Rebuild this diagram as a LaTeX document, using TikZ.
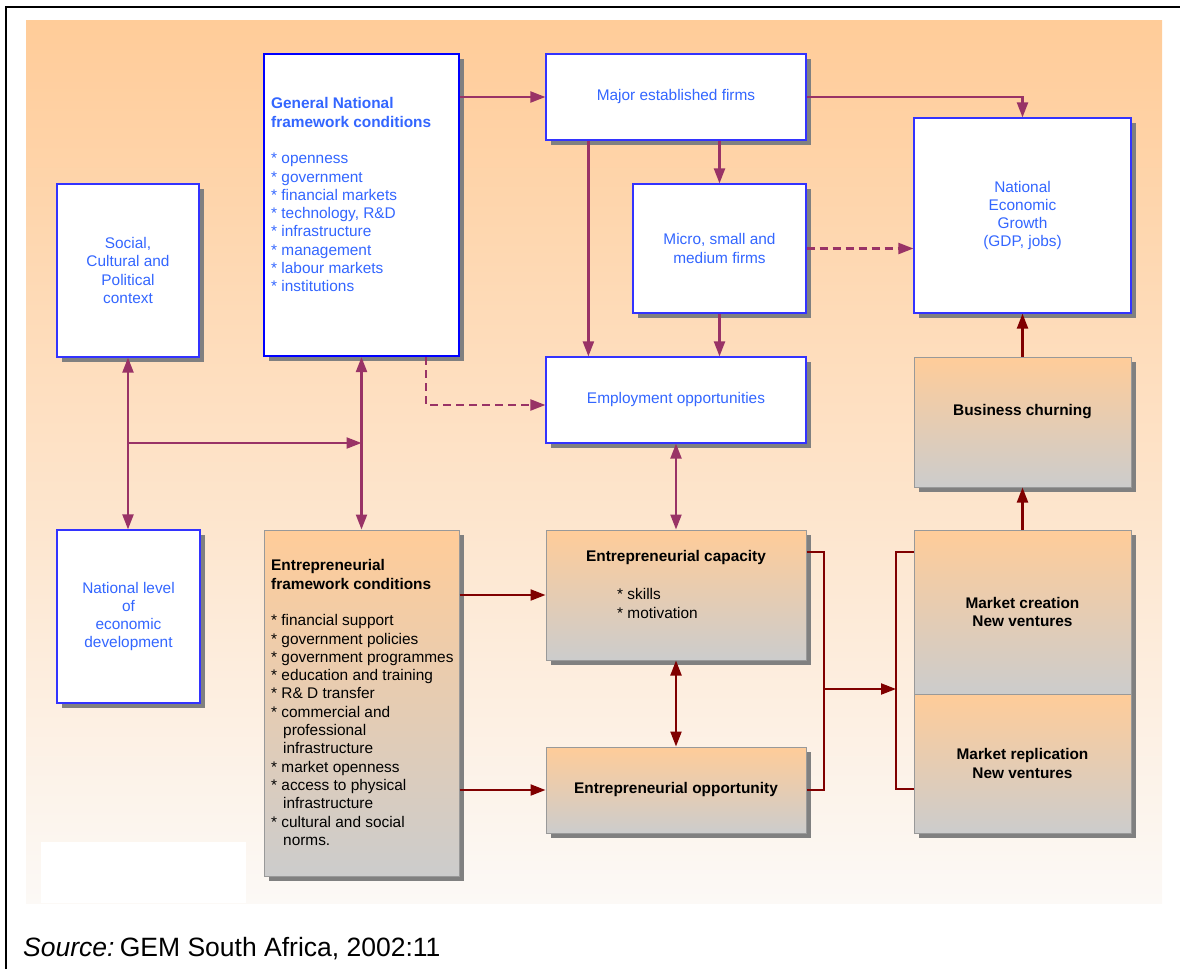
\documentclass[tikz,border=0pt]{standalone}
\usepackage{fontspec}
\setmainfont{Liberation Sans}
\usetikzlibrary{arrows.meta,shadows}

\definecolor{bgtop}{RGB}{255,204,153}
\definecolor{bgbot}{RGB}{252,249,246}
\definecolor{boxtop}{RGB}{255,204,153}
\definecolor{boxbot}{RGB}{204,204,204}
\definecolor{boxedge}{RGB}{153,153,153}
\definecolor{linkpurple}{RGB}{153,51,102}
\definecolor{linkred}{RGB}{128,0,0}
\definecolor{txtblue}{RGB}{51,102,255}
\definecolor{edgeblue}{RGB}{51,51,255}
\definecolor{shadowgray}{RGB}{128,128,128}

\tikzset{
  >={Triangle[length=15pt,width=11pt]},
  bodyfont/.style={font=\fontsize{15.4}{18.3}\selectfont},
  shadowed/.style={drop shadow={shadow xshift=5pt,shadow yshift=-5pt,fill=shadowgray,opacity=1}},
  whitebox/.style={shadowed, rectangle, draw=edgeblue, line width=1.2pt, fill=white,
    inner sep=0pt, text=txtblue, align=center, bodyfont},
  orangebox/.style={shadowed, rectangle, draw=boxedge, line width=1pt,
    top color=boxtop, bottom color=boxbot, inner sep=0pt, align=center,
    font=\fontsize{15.4}{18.3}\selectfont\bfseries},
  bluetext/.style={inner sep=0pt, text=txtblue, align=left, bodyfont},
  blacktext/.style={inner sep=0pt, text=black, align=left, bodyfont},
  plink/.style={draw=linkpurple, line width=2.2pt},
  rlink/.style={draw=linkred, line width=2.2pt},
  dashlink/.style={plink, dash pattern=on 8pt off 5pt}
}

\begin{document}
\begin{tikzpicture}[x=1pt,y=-1pt]
\useasboundingbox (0,0) rectangle (1180,969);

% backdrop of the figure panel
\shade[top color=bgtop, bottom color=bgbot] (26,20) rectangle (1162,903);
\fill[white] (41,842) rectangle (246,903);

% page frame
\draw[line width=2pt] (5.5,969) -- (5.5,6.5) -- (1180,6.5);

% ---- boxes ----
\node[whitebox, minimum width=142pt, minimum height=173pt] (social) at (128,270.5)
  {Social,\\Cultural and\\Political\\context};
\node[whitebox, minimum width=143pt, minimum height=173pt] (nel) at (128.5,616.5)
  {National level\\of\\economic\\development};
\node[whitebox, draw=blue, line width=2.2pt, minimum width=195pt, minimum height=302pt] (gnfc) at (361.5,205) {};
\node[orangebox, minimum width=195pt, minimum height=346pt] (efc) at (361.5,703) {};
\node[whitebox, minimum width=260pt, minimum height=86pt] (major) at (676,97) {Major established firms};
\node[whitebox, minimum width=173pt, minimum height=129pt] (micro) at (719.5,248.5) {Micro, small and\\medium firms};
\node[whitebox, minimum width=260pt, minimum height=86pt] (empl) at (676,400) {Employment opportunities};
\node[orangebox, minimum width=260pt, minimum height=130pt] (cap) at (676,595) {};
\node[orangebox, minimum width=260pt, minimum height=86pt] (opp) at (676,790) {Entrepreneurial opportunity};
\node[whitebox, minimum width=217pt, minimum height=195pt] (neg) at (1022.5,215.5)
  {National\\Economic\\Growth\\(GDP, jobs)};
\node[orangebox, minimum width=217pt, minimum height=130pt] (bc) at (1022.5,422) {};
\node[orangebox, minimum width=217pt, minimum height=164pt] (mc) at (1022.5,612) {Market creation\\New ventures};
\node[orangebox, minimum width=217pt, minimum height=139pt] (mr) at (1022.5,763.5) {Market replication\\New ventures};

% ---- texts set inside boxes at fixed places ----
\node[bluetext, anchor=north west] (gnfctext) at (271,97.5)
  {\textbf{General National}\\\textbf{framework conditions}\\[18.3pt]
   * openness\\* government\\* financial markets\\* technology, R\&D\\
   * infrastructure\\* management\\* labour markets\\* institutions};
\node[blacktext, anchor=north west] (efctext) at (271,559.5)
  {\textbf{Entrepreneurial}\\\textbf{framework conditions}\\[18.3pt]
   * financial support\\* government policies\\* government programmes\\
   * education and training\\* R\& D transfer\\* commercial and\\
   \hspace*{12pt}professional\\\hspace*{12pt}infrastructure\\* market openness\\
   * access to physical\\\hspace*{12pt}infrastructure\\* cultural and social\\
   \hspace*{12pt}norms.};
\node[blacktext, font=\fontsize{15.4}{18.3}\selectfont\bfseries] (captitle) at (676,558) {Entrepreneurial capacity};
\node[blacktext, anchor=north west] (caplist) at (617,588.5) {* skills\\* motivation};
\node[blacktext, font=\fontsize{15.4}{18.3}\selectfont\bfseries] (bctitle) at (1022.5,412) {Business churning};

% ---- connectors ----
\coordinate (jn) at (128,443);
\coordinate (bx) at (824,689);
\coordinate (bx2) at (896,689);

\draw[plink,->] (gnfc.east |- major.west) -- (major.west);
\draw[plink,->] (major.east) -| (neg.north);
\draw[plink,->] (major.south -| micro.north) -- (micro.north);
\draw[plink,->] ([xshift=43pt]major.south west) -- ([xshift=43pt]empl.north west);
\draw[plink,->] (micro.south) -- (micro.south |- empl.north);
\draw[dashlink,->] (micro.east) -- (micro.east -| neg.west);
\draw[dashlink,->] ([xshift=-34pt]gnfc.south east) |- ([yshift=-5pt]empl.west);
\draw[plink,<->] (social.south) -- (social.south |- nel.north);
\draw[plink,->] (jn) -- (jn -| gnfc.south);
\draw[plink,<->] (gnfc.south) -- (efc.north);
\draw[plink,<->] (empl.south) -- (cap.north);

\draw[rlink,->] (efc.east |- cap.west) -- (cap.west);
\draw[rlink,->] (efc.east |- opp.west) -- (opp.west);
\draw[rlink,<->] (cap.south) -- (opp.north);
\draw[rlink, line width=1.8pt] ([yshift=43pt]cap.east) -| (bx) |- (opp.east);
\draw[rlink,->] (bx) -- (bx2);
\draw[rlink, line width=1.8pt] ([yshift=60pt]mc.west) -| (bx2) |- ([yshift=-25.5pt]mr.west);
\draw[rlink,->] (mc.north) -- (bc.south);
\draw[rlink,->] (bc.north) -- (neg.south);

% ---- source line ----
\node[anchor=base west, inner sep=0pt, font=\fontsize{26.5}{30}\selectfont] (source) at (23,956)
  {\textit{Source:}\hspace{0.2em}GEM South Africa, 2002:11};
\end{tikzpicture}
\end{document}
